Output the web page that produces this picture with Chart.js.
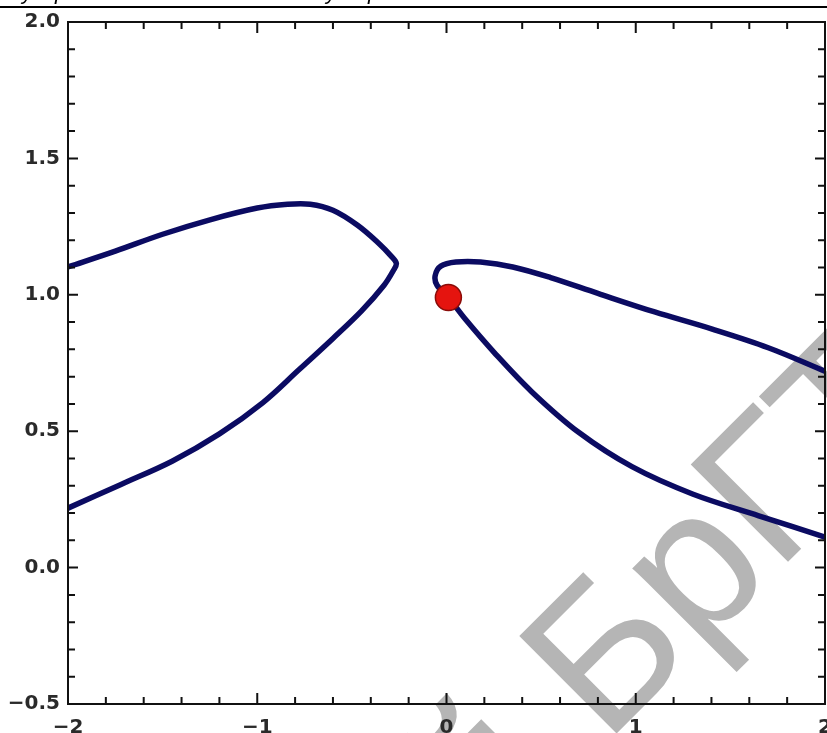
<!DOCTYPE html>
<html>
<head>
<meta charset="utf-8">
<script src="https://cdn.jsdelivr.net/npm/chart.js@4.4.0/dist/chart.umd.min.js"></script>
<style>
  body { margin: 0; background: #fff; }
  canvas { display: block; }
</style>
</head>
<body>
<canvas id="curveChart" width="827" height="733"></canvas>
<script>
// left loop, traced from the upper branch round the tip and back down
const leftX = [-2, -1.75, -1.5, -1.25, -1.0, -0.84, -0.72, -0.6, -0.47, -0.36, -0.29, -0.265, -0.28, -0.33, -0.45, -0.6, -0.78, -0.97, -1.2, -1.45, -1.72, -2];
const leftY = [1.102, 1.16, 1.222, 1.275, 1.318, 1.332, 1.332, 1.31, 1.255, 1.19, 1.14, 1.115, 1.09, 1.035, 0.94, 0.84, 0.725, 0.605, 0.49, 0.39, 0.305, 0.218];

// right branch, from upper right through the hook and the dot to lower right
const rightX = [2, 1.7, 1.4, 1.1, 0.8, 0.55, 0.35, 0.18, 0.05, -0.03, -0.06, -0.05, 0.01, 0.1, 0.25, 0.45, 0.7, 0.98, 1.3, 1.65, 2];
const rightY = [0.72, 0.806, 0.875, 0.937, 1.005, 1.063, 1.102, 1.12, 1.12, 1.105, 1.07, 1.035, 0.99, 0.91, 0.79, 0.645, 0.495, 0.37, 0.27, 0.19, 0.112];

const dotX = [0.01];
const dotY = [0.99];

const xTicks = [-2, -1, 0, 1, 2];
const yTicks = [-0.5, 0, 0.5, 1, 1.5, 2];

const toPoints = (xs, ys) => xs.map((x, i) => ({ x: x, y: ys[i] }));
const minus = s => s.replace('-', '\u2212');

const framePlugin = {
  id: 'frame',
  beforeDraw(chart) {
    // scanned watermark, under the labels and curves
    const ctx = chart.ctx;
    ctx.save();
    ctx.translate(605, 745);
    ctx.rotate(-Math.PI / 4);
    ctx.font = '200px "Liberation Sans", Arial, sans-serif';
    ctx.fillStyle = '#b5b5b5';
    ctx.textBaseline = 'alphabetic';
    const pre = 'Репозиторий ';
    const w = ctx.measureText(pre).width;
    ctx.fillText(pre + 'БрГТУ', -w, 0);
    ctx.restore();
  },
  afterDraw(chart) {
    const ctx = chart.ctx;
    const a = chart.chartArea;
    const xs = chart.scales.x;
    const ys = chart.scales.y;
    ctx.save();
    ctx.strokeStyle = '#111';
    ctx.lineWidth = 2;
    ctx.strokeRect(a.left, a.top, a.right - a.left, a.bottom - a.top);

    ctx.beginPath();
    for (let i = -10; i <= 10; i++) {
      const px = xs.getPixelForValue(i / 5);
      const len = i % 5 === 0 ? 11 : 7;
      ctx.moveTo(px, a.bottom); ctx.lineTo(px, a.bottom - len);
      ctx.moveTo(px, a.top); ctx.lineTo(px, a.top + len);
    }
    for (let i = -5; i <= 20; i++) {
      const py = ys.getPixelForValue(i / 10);
      const len = i % 5 === 0 ? 10 : 7;
      ctx.moveTo(a.left, py); ctx.lineTo(a.left + len, py);
      ctx.moveTo(a.right, py); ctx.lineTo(a.right - len, py);
    }
    ctx.stroke();

    // rule and cut-off caption line from the page above
    ctx.fillStyle = '#000';
    ctx.fillRect(0, 6, chart.width, 2);
    ctx.font = 'italic 22px "Liberation Sans", Arial, sans-serif';
    ctx.fillText('у', 22, -1);
    ctx.fillText('р', 55, -1);
    ctx.fillText('у', 326, -1);
    ctx.fillText('р', 368, -1);
    ctx.restore();
  }
};

const tickFont = { family: '"DejaVu Sans", sans-serif', size: 20, weight: 'bold' };

const ctx = document.getElementById('curveChart').getContext('2d');
new Chart(ctx, {
  type: 'scatter',
  data: {
    datasets: [
      {
        label: 'dot',
        data: toPoints(dotX, dotY),
        showLine: false,
        pointRadius: 13,
        pointBackgroundColor: '#e5140f',
        pointBorderColor: '#8a0c08',
        pointBorderWidth: 1.5
      },
      {
        label: 'left',
        data: toPoints(leftX, leftY),
        showLine: true,
        borderColor: '#0b0b62',
        borderWidth: 5.5,
        tension: 0.35,
        pointRadius: 0,
        borderCapStyle: 'round',
        borderJoinStyle: 'round'
      },
      {
        label: 'right',
        data: toPoints(rightX, rightY),
        showLine: true,
        borderColor: '#0b0b62',
        borderWidth: 5.5,
        tension: 0.35,
        pointRadius: 0,
        borderCapStyle: 'round',
        borderJoinStyle: 'round'
      }
    ]
  },
  options: {
    responsive: false,
    animation: false,
    layout: { autoPadding: false, padding: { top: 22, right: 2, left: 0, bottom: 0 } },
    plugins: {
      legend: { display: false },
      tooltip: { enabled: false }
    },
    scales: {
      x: {
        type: 'linear',
        min: -2,
        max: 2,
        afterBuildTicks: scale => { scale.ticks = xTicks.map(v => ({ value: v })); },
        afterFit: scale => { scale.height = 29; scale.paddingLeft = 0; scale.paddingRight = 0; },
        grid: { display: false, drawTicks: false },
        border: { display: false },
        ticks: {
          padding: 12,
          color: '#2a2a2a',
          font: tickFont,
          maxRotation: 0,
          callback: v => minus(String(v))
        }
      },
      y: {
        type: 'linear',
        min: -0.5,
        max: 2,
        afterBuildTicks: scale => { scale.ticks = yTicks.map(v => ({ value: v })); },
        afterFit: scale => { scale.width = 68; scale.paddingTop = 0; scale.paddingBottom = 0; },
        grid: { display: false, drawTicks: false },
        border: { display: false },
        ticks: {
          padding: 8,
          color: '#2a2a2a',
          font: tickFont,
          callback: v => minus(v.toFixed(1))
        }
      }
    }
  },
  plugins: [framePlugin]
});
</script>
</body>
</html>
